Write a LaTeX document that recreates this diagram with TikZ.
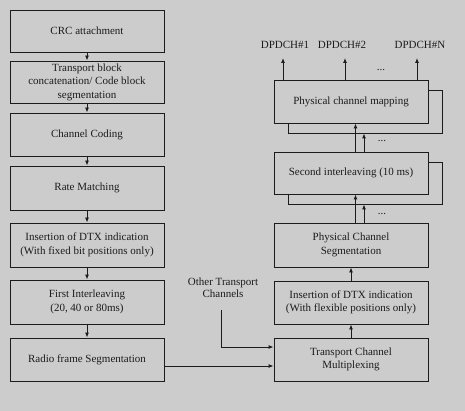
\documentclass[tikz,border=0pt]{standalone}
\usepackage{fontspec}
\setmainfont{Liberation Serif}
\usetikzlibrary{arrows.meta}
\definecolor{bg}{RGB}{204,204,204}
\definecolor{ink}{RGB}{28,28,28}
\tikzset{
  box/.style={draw=ink, fill=bg, line width=0.9pt, rectangle, inner sep=0pt,
    minimum width=154pt, align=center, text=ink,
    font=\fontsize{11}{13.5}\selectfont},
  shadowbox/.style={draw=ink, fill=bg, line width=0.9pt, rectangle, inner sep=0pt,
    minimum width=154pt},
  arr/.style={draw=ink, line width=0.9pt, -{Latex[length=5pt,width=4pt]}},
  lbl/.style={text=ink, inner sep=0pt, align=center, font=\fontsize{11}{12}\selectfont},
  dots/.style={text=ink, inner sep=0pt, font=\fontsize{11}{12}\selectfont}
}
\begin{document}
\begin{tikzpicture}[x=1pt,y=-1pt]
\useasboundingbox[fill=bg] (0,0) rectangle (465,411);
% left column
\node[box, minimum height=42pt] (crc) at (87,31) {CRC attachment};
\node[box, minimum height=42pt] (tb) at (87,82) {Transport block\\concatenation/ Code block\\segmentation};
\node[box, minimum height=43pt] (cc) at (87,134.5) {Channel Coding};
\node[box, minimum height=44pt] (rm) at (87,188) {Rate Matching};
\node[box, minimum height=44pt] (dtxa) at (87,245) {Insertion of DTX indication\\(With fixed bit positions only)};
\node[box, minimum height=44pt] (fi) at (87,302) {First Interleaving\\(20, 40 or 80ms)};
\node[box, minimum height=43pt] (rf) at (87,359.5) {Radio frame Segmentation};
\draw[arr] (crc.south) -- (tb.north);
\draw[arr] (tb.south) -- (cc.north);
\draw[arr] (cc.south) -- (rm.north);
\draw[arr] (rm.south) -- (dtxa.north);
\draw[arr] (dtxa.south) -- (fi.north);
\draw[arr] (fi.south) -- (rf.north);
% right column
\node[shadowbox, minimum height=43pt] (pcms) at (365,111.5) {};
\node[box, minimum height=43pt] (pcm) at (351,101.5) {Physical channel mapping};
\node[shadowbox, minimum height=42pt] (sis) at (365,183) {};
\node[box, minimum height=42pt] (si) at (351,173) {Second interleaving (10 ms)};
\node[box, minimum height=44pt] (pcs) at (351,245) {Physical Channel\\Segmentation};
\node[box, minimum height=43pt] (dtxb) at (351,302.5) {Insertion of DTX indication\\(With flexible positions only)};
\node[box, minimum height=43pt] (tcm) at (351,359.5) {Transport Channel\\Multiplexing};
\draw[arr] (tcm.north) -- (dtxb.south);
\draw[arr] (dtxb.north) -- (pcs.south);
\coordinate (p1) at ([xshift=4.5pt]pcs.north);
\coordinate (p2) at ([xshift=13pt]pcs.north);
\draw[arr] (p1) -- (p1 |- si.south);
\draw[arr] (p2) -- (p2 |- sis.south);
\coordinate (s1) at ([xshift=4.5pt]si.north);
\coordinate (s2) at ([xshift=13pt]si.north);
\draw[arr] (s1) -- (s1 |- pcm.south);
\draw[arr] (s2) -- (s2 |- pcms.south);
\node[dots] (dotsa) at (382,214) {...};
\node[dots] (dotsb) at (382,141) {...};
% outputs
\node[lbl] (l1) at (285,45) {DPDCH\#1};
\node[lbl] (l2) at (342,45) {DPDCH\#2};
\node[lbl] (ln) at (420,45) {DPDCH\#N};
\coordinate (d1) at (283,58);
\coordinate (d2) at (345,58);
\coordinate (dn) at (417,58);
\draw[arr] (d1 |- pcm.north) -- (d1);
\draw[arr] (d2 |- pcm.north) -- (d2);
\draw[arr] (dn |- pcm.north) -- (dn);
\node[dots] (dotsc) at (381,70) {...};
% other transport channels
\node[lbl] (otc) at (223,288) {Other Transport\\Channels};
\coordinate (ot) at (221,310);
\coordinate (otin) at ([yshift=12.5pt]tcm.west);
\draw[arr] (ot) |- (otin);
\coordinate (rfout) at ([yshift=-6.5pt]rf.east);
\draw[arr] (rfout) -- (rfout -| tcm.west);
\end{tikzpicture}
\end{document}
